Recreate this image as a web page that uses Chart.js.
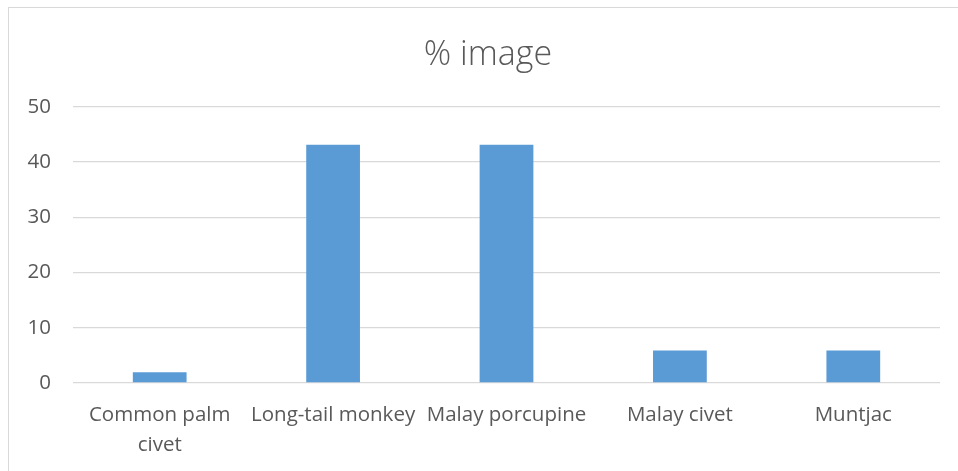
<!DOCTYPE html>
<html>
<head>
<meta charset="utf-8">
<script src="https://cdn.jsdelivr.net/npm/chart.js@4"></script>
<style>
  html, body { margin: 0; padding: 0; background: #fff; }
  #wrap { position: relative; width: 958px; height: 471px; overflow: hidden; }
  #frame { position: absolute; left: 8px; top: 7px; width: 1000px; height: 500px;
           border-left: 1.5px solid #d9d9d9; border-top: 1.5px solid #d9d9d9; pointer-events: none; }
  canvas { position: absolute; left: 0; top: 0; }
</style>
</head>
<body>
<div id="wrap">
  <canvas id="c" width="958" height="471"></canvas>
  <div id="frame"></div>
</div>
<script>
const chartTitle = "% image";
const categories = [["Common palm", "civet"], "Long-tail monkey", "Malay porcupine", "Malay civet", "Muntjac"];
const percentImage = [1.96, 43.14, 43.14, 5.88, 5.88];
const yTicks = [0, 10, 20, 30, 40, 50];

const FONT = "'Open Sans', Lato, sans-serif";
const TEXT = "#595959";

// Centre the title over the plot area (as the original does) rather than the whole canvas.
const titleOverPlot = {
  id: 'titleOverPlot',
  afterLayout(chart) {
    if (chart.titleBlock) {
      chart.titleBlock.left = 36;
    }
  }
};

new Chart(document.getElementById('c'), {
  type: 'bar',
  data: {
    labels: categories,
    datasets: [{
      label: chartTitle,
      data: percentImage,
      backgroundColor: '#5b9bd5',
      borderWidth: 0,
      barPercentage: 0.31,
      categoryPercentage: 1.0
    }]
  },
  plugins: [titleOverPlot],
  options: {
    responsive: false,
    animation: false,
    devicePixelRatio: 1,
    layout: { padding: { top: 18, right: 18, bottom: 0, left: 0 } },
    plugins: {
      legend: { display: false },
      tooltip: { enabled: false },
      title: {
        display: true,
        text: chartTitle,
        color: TEXT,
        font: { family: FONT, size: 34, weight: '300', lineHeight: 1.2 },
        padding: { top: 17, bottom: 31 }
      }
    },
    scales: {
      x: {
        grid: { display: false, drawTicks: false },
        border: { display: false },
        ticks: {
          color: TEXT,
          font: { family: FONT, size: 20.5, lineHeight: 1.46 },
          padding: 17,
          maxRotation: 0,
          autoSkip: false
        },
        afterFit: (s) => { s.height = 88; }
      },
      y: {
        min: 0,
        max: 50,
        afterBuildTicks: (s) => { s.ticks = yTicks.map(v => ({ value: v })); },
        grid: { color: '#d9d9d9', lineWidth: 1.3, drawTicks: false },
        border: { display: false },
        ticks: {
          color: TEXT,
          font: { family: FONT, size: 20.5 },
          padding: 22
        },
        afterFit: (s) => { s.width = 73; }
      }
    }
  }
});
</script>
</body>
</html>
